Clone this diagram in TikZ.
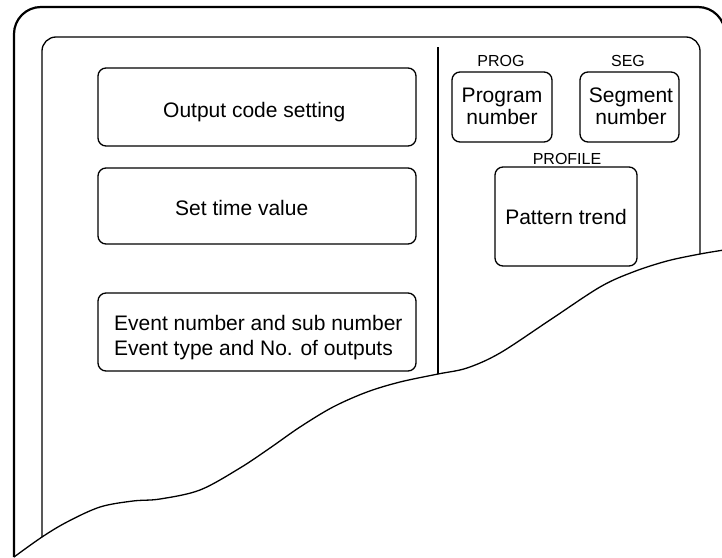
\documentclass[tikz,border=0pt]{standalone}
\usepackage{fontspec}
\setmainfont{Liberation Sans}
\begin{document}
\begin{tikzpicture}[x=1pt,y=-1pt,
  box/.style={draw, rounded corners=8pt, line width=1.3pt, inner sep=0pt},
  big/.style={font=\fontsize{21}{25}\selectfont, inner sep=0pt},
  twoline/.style={font=\fontsize{21}{22.5}\selectfont, inner sep=0pt},
  lbl/.style={font=\fontsize{16}{18}\selectfont, inner sep=0pt, anchor=base},
  outerline/.style={line width=2.2pt},
  innerline/.style={line width=1.3pt},
  tear/.style={line width=1.3pt},
  divider/.style={line width=2pt}
]
\useasboundingbox (0,0) rectangle (722,557);
\clip (0,0) rectangle (722,557);

% frames
\coordinate (oa) at (14,557);
\coordinate (ob) at (725,251);
\draw[outerline, rounded corners=27pt] (oa) -- (14,7) -- (725,7) -- (ob);
\coordinate (ia) at (42,537);
\coordinate (ib) at (700,254);
\draw[innerline, rounded corners=14pt] (ia) -- (42,37) -- (700,37) -- (ib);

% divider
\coordinate (da) at (438,47);
\coordinate (db) at (438,374);
\draw[divider] (da) -- (db);

% tear curve
\draw[tear] plot[smooth, tension=0.55] coordinates {(14,557) (42,537) (67,522) (100,507) (133,501) (160,499) (200,490) (240,468) (270,448) (300,427) (333,407) (367,392) (400,382) (438,374) (467,368) (500,353) (550,320) (600,287) (633,272) (667,261) (700,254) (724,250)};

% left boxes
\node[box, minimum width=318pt, minimum height=78pt] (outbox) at (257,107) {};
\node[big, anchor=base west] (outtxt) at (163,117) {Output code setting};
\node[box, minimum width=318pt, minimum height=76pt] (timebox) at (257,206) {};
\node[big, anchor=base west] (timetxt) at (175,215) {Set time value};
\node[box, minimum width=318pt, minimum height=78pt] (eventbox) at (257,332) {};
\node[big, anchor=base west, align=left] (eventtxt) at (114,355) {Event number and sub number\\Event type and No. of outputs};

% right boxes
\node[lbl] (proglbl) at (501,66) {PROG};
\node[box, minimum width=100pt, minimum height=70pt] (progbox) at (502,107) {};
\node[twoline, anchor=base, align=center] (progtxt) at (502,124.5) {Program\\number};
\node[lbl] (seglbl) at (628,66) {SEG};
\node[box, minimum width=99pt, minimum height=70pt] (segbox) at (629.5,107) {};
\node[twoline, anchor=base, align=center] (segtxt) at (631,124.5) {Segment\\number};
\node[lbl] (proflbl) at (567,164) {PROFILE};
\node[box, minimum width=142pt, minimum height=99pt] (patbox) at (566,216.5) {};
\node[big, anchor=base] (pattxt) at (566,224) {Pattern trend};
\end{tikzpicture}
\end{document}
